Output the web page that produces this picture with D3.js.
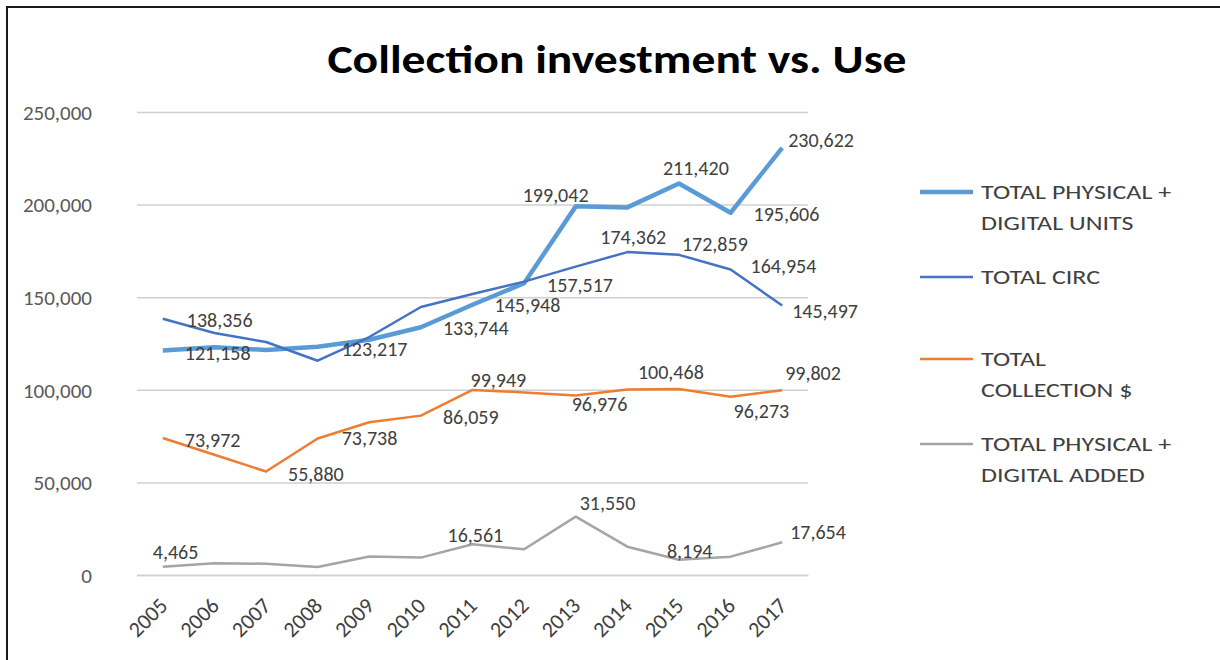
<!DOCTYPE html>
<html>
<head>
<meta charset="utf-8">
<script src="https://cdn.jsdelivr.net/npm/d3@7/dist/d3.min.js"></script>
<style>
  html, body { margin: 0; padding: 0; background: #fff; }
  svg { display: block; font-family: Carlito, Calibri, Lato, sans-serif; }
</style>
</head>
<body>
<svg id="chart" width="1220" height="660"></svg>
<script>
// ---- data ----
const years = ["2005","2006","2007","2008","2009","2010","2011","2012","2013","2014","2015","2016","2017"];

const physicalDigitalUnits = [121158, 123000, 121500, 123217, 127000, 133744, 145948, 157517, 199042, 198500, 211420, 195606, 230622];
const totalCirc            = [138356, 130700, 125800, 115700, 128500, 144700, 151700, 158400, 166500, 174362, 172859, 164954, 145497];
const totalCollection      = [73972, 64900, 55880, 73738, 82500, 86059, 99949, 98600, 96976, 100100, 100468, 96273, 99802];
const physicalDigitalAdded = [4465, 6300, 6100, 4300, 10000, 9400, 16561, 13900, 31550, 15300, 8194, 9900, 17654];

const seriesNames = [
  ["TOTAL PHYSICAL +", "DIGITAL UNITS"],
  ["TOTAL CIRC"],
  ["TOTAL", "COLLECTION $"],
  ["TOTAL PHYSICAL +", "DIGITAL ADDED"]
];

// years that carry a value label, per series
const unitsLabelled      = ["2005","2008","2010","2011","2012","2013","2015","2016","2017"];
const circLabelled       = ["2005","2014","2015","2016","2017"];
const collectionLabelled = ["2005","2007","2008","2010","2011","2013","2015","2016","2017"];
const addedLabelled      = ["2005","2011","2013","2015","2017"];

const yTicks = [0, 50000, 100000, 150000, 200000, 250000];

// ---- presentation ----
const series = [
  { values: physicalDigitalUnits, labelled: unitsLabelled,      color: "#5B9BD5", width: 4.5 },
  { values: totalCirc,            labelled: circLabelled,       color: "#4472C4", width: 2.5 },
  { values: totalCollection,      labelled: collectionLabelled, color: "#ED7D31", width: 2.5 },
  { values: physicalDigitalAdded, labelled: addedLabelled,      color: "#A5A5A5", width: 2.5 }
];

// hand-tuned label nudges (dx from point, dy from point), keyed by series then year
const labelNudge = [
  { "2005":[22,2], "2008":[24,2], "2010":[22,1], "2011":[22,0], "2012":[23,2],
    "2013":[-53,-11], "2015":[-16,-15], "2016":[23,1], "2017":[6,-8] },
  { "2005":[24,1], "2014":[-27,-15], "2015":[3,-11], "2016":[20,-4], "2017":[10,5] },
  { "2005":[22,2], "2007":[22,2], "2008":[24,0], "2010":[22,1], "2011":[-2,-10],
    "2013":[-4,9], "2015":[-41,-17], "2016":[3,14], "2017":[3,-17] },
  { "2005":[-10,-15], "2011":[-25,-9], "2013":[4,-14], "2015":[-12,-9], "2017":[8,-10] }
];

const svg = d3.select("#chart");

// outer frame of the chart object
svg.append("rect")
  .attr("x", 7).attr("y", 7).attr("width", 1240).attr("height", 680)
  .attr("fill", "none").attr("stroke", "#1a1a1a").attr("stroke-width", 2);

const plot = { left: 137, right: 808, top: 112, bottom: 575 };

const x = d3.scaleBand().domain(years).range([plot.left, plot.right]).padding(0);
const cx = d => x(d) + x.bandwidth() / 2;
const y = d3.scaleLinear().domain([0, 250000]).range([plot.bottom, plot.top]);

// title (slightly widened lettering)
svg.append("text")
  .attr("transform", "translate(617,73) scale(1.19,1)")
  .attr("text-anchor", "middle")
  .attr("font-size", 40).attr("font-weight", "bold").attr("fill", "#000")
  .text("Collection investment vs. Use");

// gridlines + y axis labels
const yAxis = d3.axisLeft(y).tickValues(yTicks)
  .tickSize(-(plot.right - plot.left))
  .tickFormat(d3.format(","));
const gy = svg.append("g").attr("transform", `translate(${plot.left},0)`).call(yAxis);
gy.select(".domain").remove();
gy.selectAll(".tick line").attr("stroke", "#D0D0D0").attr("stroke-width", 1.5);
gy.selectAll(".tick text")
  .attr("x", -45).attr("dy", "0.35em")
  .attr("font-size", 21).attr("fill", "#595959")
  .attr("font-family", "Carlito, Calibri, Lato, sans-serif");

// x axis
const xAxis = d3.axisBottom(x).tickSize(0);
const gx = svg.append("g").attr("transform", `translate(0,${plot.bottom})`).call(xAxis);
gx.select(".domain").attr("stroke", "#D0D0D0").attr("stroke-width", 1.5);
gx.selectAll(".tick text")
  .attr("font-size", 22).attr("fill", "#404040")
  .attr("font-family", "Carlito, Calibri, Lato, sans-serif")
  .attr("text-anchor", "end")
  .attr("dy", null).attr("y", 0)
  .attr("transform", "translate(6,32) rotate(-45)");

// lines
const line = d3.line().x((d, i) => cx(years[i])).y(d => y(d));
series.forEach(s => {
  svg.append("path")
    .datum(s.values)
    .attr("fill", "none")
    .attr("stroke", s.color)
    .attr("stroke-width", s.width)
    .attr("stroke-linejoin", "round")
    .attr("d", line);
});

// value labels
series.forEach((s, si) => {
  s.labelled.forEach(yr => {
    const i = years.indexOf(yr);
    const v = s.values[i];
    const nudge = labelNudge[si][yr] || [22, 0];
    svg.append("text")
      .attr("x", cx(yr) + nudge[0])
      .attr("y", y(v) + nudge[1])
      .attr("dy", "0.35em")
      .attr("font-size", 20).attr("fill", "#404040")
      .text(d3.format(",")(v));
  });
});

// legend
const legendTop = [192, 277, 359, 444];
seriesNames.forEach((names, i) => {
  const g = svg.append("g").attr("transform", `translate(920,${legendTop[i]})`);
  g.append("line").attr("x1", 0).attr("x2", 53).attr("y1", 0).attr("y2", 0)
    .attr("stroke", series[i].color).attr("stroke-width", series[i].width);
  names.forEach((t, j) => {
    g.append("text")
      .attr("transform", `translate(61,${j * 31}) scale(1.3,1)`)
      .attr("dy", "0.35em")
      .attr("font-size", 20).attr("fill", "#404040")
      .text(t);
  });
});
</script>
</body>
</html>
